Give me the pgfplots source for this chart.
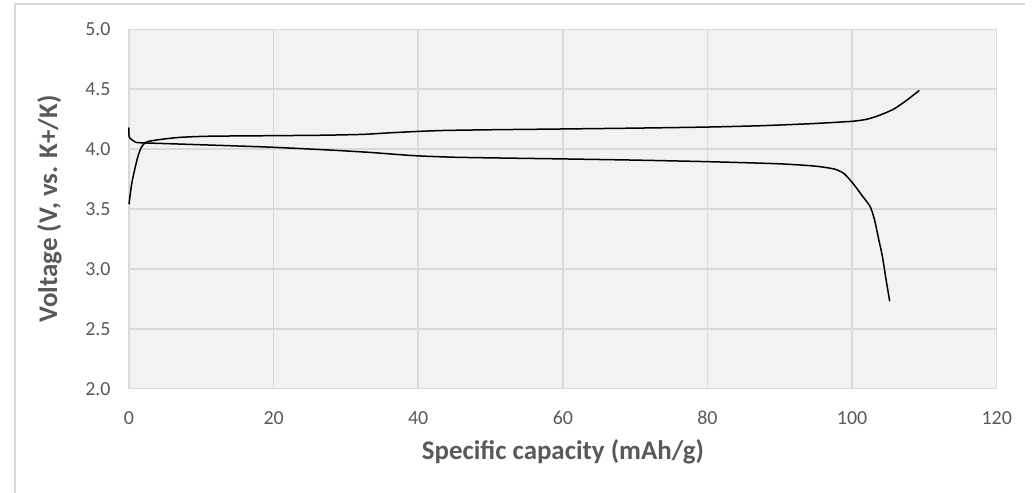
\documentclass[border=0pt]{standalone}
\usepackage{pgfplots}
\pgfplotsset{compat=1.18}
\usepackage{fontspec}
\setmainfont{Carlito}
\definecolor{txt}{HTML}{595959}
\definecolor{grd}{HTML}{D9D9D9}
\definecolor{pa}{HTML}{F2F2F2}
\begin{document}
\begin{tikzpicture}[x=1bp,y=1bp]
\useasboundingbox (0,0) rectangle (1034,493);
\draw[grd, line width=1.2bp] (15,0) -- (15,489) -- (1025,489);
\begin{axis}[
  at={(129bp,104.3bp)}, anchor=south west,
  scale only axis, width=867.7bp, height=359.4bp,
  xmin=0, xmax=120, ymin=2, ymax=5,
  xtick={0,20,...,120}, ytick={2,2.5,...,5},
  /pgf/number format/assume math mode=true,
  yticklabel style={/pgf/number format/fixed, /pgf/number format/fixed zerofill, /pgf/number format/precision=1, xshift=-15bp},
  xticklabel style={/pgf/number format/fixed, /pgf/number format/precision=0, yshift=-19bp},
  tick label style={font=\fontsize{20}{24}\selectfont, text=txt},
  major tick length=0pt,
  grid=major,
  grid style={grd, line width=1.5bp},
  axis line style={grd, line width=1.5bp},
  axis background/.style={fill=pa},
  xlabel={Specific capacity (mAh/g)},
  ylabel={Voltage (V, vs. K+/K)},
  label style={font=\fontsize{27}{32}\selectfont\bfseries, text=txt},
  xlabel style={at={(axis description cs:0.5,-0.176)}, anchor=center},
  ylabel style={at={(axis description cs:-0.0916,0.5)}, anchor=center},
  clip=false,
]
\addplot[black, line width=1.5bp, smooth, tension=0.4] coordinates {
(0,3.54) (0.37,3.71) (0.83,3.84) (1.29,3.95) (1.76,4.02) (2.45,4.06)
(4.29,4.08) (7.06,4.098) (10.75,4.107) (15.4,4.11) (20,4.112) (27,4.116)
(32.4,4.123) (36.1,4.136) (40.1,4.148) (44,4.156) (50.9,4.162) (60.1,4.168)
(70,4.175) (80,4.184) (87.3,4.195) (94.3,4.212) (100,4.232) (102.1,4.25)
(103.9,4.285) (105.8,4.335) (107.6,4.41) (109.3,4.49)
};
\addplot[black, line width=1.5bp, smooth, tension=0.4] coordinates {
(0,4.18) (0.04,4.10) (0.83,4.06) (1.5,4.053) (5,4.046) (10,4.036)
(14,4.028) (20,4.015) (27.8,3.992) (33.4,3.972) (37.1,3.955) (40.1,3.943)
(45,3.932) (50.9,3.926) (60,3.918) (70,3.908) (80,3.895) (89.6,3.878)
(94.7,3.859) (97.5,3.834) (98.9,3.795) (100.3,3.70) (101.4,3.61)
(102.5,3.52) (103.1,3.41) (103.6,3.27) (104.2,3.10) (104.7,2.91) (105.2,2.73)
};
\end{axis}
\end{tikzpicture}
\end{document}
